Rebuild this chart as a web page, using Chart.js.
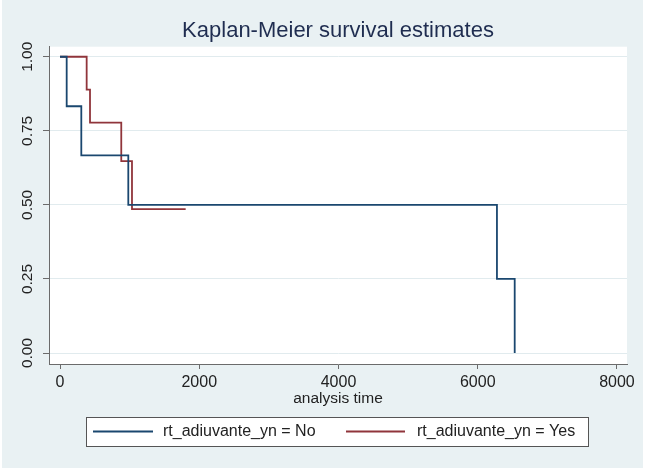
<!DOCTYPE html>
<html>
<head>
<meta charset="utf-8">
<script src="https://cdn.jsdelivr.net/npm/chart.js@4.4.1/dist/chart.umd.min.js"></script>
<style>
  html, body { margin: 0; padding: 0; background: #ffffff; }
  canvas { display: block; }
</style>
</head>
<body>
<canvas id="kmChart" width="645" height="470"></canvas>
<script>
// 데이터
const timesNo = [0, 96, 306, 981, 6276, 6531];
const survNo = [1, 0.833, 0.667, 0.5, 0.25, 0];
const timesYes = [0, 383, 431, 880, 1034, 1805];
const survYes = [1, 0.889, 0.778, 0.648, 0.486, 0.486];
const seriesLabels = ['rt_adiuvante_yn = No', 'rt_adiuvante_yn = Yes'];
const seriesColors = ['#1a476f', '#90353b'];
const xTicks = [0, 2000, 4000, 6000, 8000];
const yTicks = [0, 0.25, 0.5, 0.75, 1];
const chartTitle = 'Kaplan-Meier survival estimates';
const xTitle = 'analysis time';

const FONT = '"Liberation Sans", Arial, sans-serif';

function toPoints(xs, ys) {
    return xs.map((x, i) => ({ x: x, y: ys[i] }));
}

// 배경, 제목, 세로 눈금 글자, 범례
const stataLook = {
    id: 'stataLook',
    beforeDraw(chart) {
        const { ctx, chartArea: a } = chart;
        ctx.save();
        ctx.fillStyle = '#ffffff';
        ctx.fillRect(0, 0, chart.width, chart.height);
        ctx.fillStyle = '#e9f1f3';
        ctx.fillRect(2, 0, chart.width - 4, chart.height - 2);
        ctx.fillStyle = '#ffffff';
        ctx.fillRect(a.left, a.top, a.right - a.left, a.bottom - a.top);
        ctx.restore();
    },
    afterDraw(chart) {
        const { ctx, chartArea: a } = chart;
        const y = chart.scales.y;
        ctx.save();

        // title
        ctx.fillStyle = '#1f2d50';
        ctx.font = '22px ' + FONT;
        ctx.textAlign = 'center';
        ctx.textBaseline = 'middle';
        ctx.fillText(chartTitle, (a.left + a.right) / 2, 31);

        // rotated y tick labels
        ctx.fillStyle = '#222222';
        ctx.font = '15.5px ' + FONT;
        yTicks.forEach(v => {
            ctx.save();
            ctx.translate(28, y.getPixelForValue(v));
            ctx.rotate(-Math.PI / 2);
            ctx.fillText(v.toFixed(2), 0, 0);
            ctx.restore();
        });

        // legend box
        ctx.fillStyle = '#ffffff';
        ctx.fillRect(87, 417, 502, 29);
        ctx.strokeStyle = '#555555';
        ctx.lineWidth = 1;
        ctx.strokeRect(86.5, 417.5, 502, 29);
        const items = [
            { x0: 93, x1: 153, tx: 163 },
            { x0: 346, x1: 405, tx: 417 }
        ];
        ctx.textAlign = 'left';
        ctx.font = '16px ' + FONT;
        chart.data.datasets.forEach((ds, i) => {
            const it = items[i];
            ctx.strokeStyle = ds.borderColor;
            ctx.lineWidth = 1.8;
            ctx.beginPath();
            ctx.moveTo(it.x0, 431.5);
            ctx.lineTo(it.x1, 431.5);
            ctx.stroke();
            ctx.fillStyle = '#222222';
            ctx.fillText(ds.label, it.tx, 432);
        });
        ctx.restore();
    }
};

const ctx = document.getElementById('kmChart').getContext('2d');
const kmChart = new Chart(ctx, {
    type: 'line',
    data: {
        datasets: [
            {
                label: seriesLabels[0],
                data: toPoints(timesNo, survNo),
                borderColor: seriesColors[0],
                borderWidth: 1.8,
                stepped: true,
                pointRadius: 0,
                fill: false
            },
            {
                label: seriesLabels[1],
                data: toPoints(timesYes, survYes),
                borderColor: seriesColors[1],
                borderWidth: 1.8,
                stepped: true,
                pointRadius: 0,
                fill: false
            }
        ]
    },
    options: {
        responsive: false,
        animation: false,
        layout: { padding: { top: 46.7, right: 18, bottom: 0, left: 0 } },
        plugins: {
            legend: { display: false },
            title: { display: false },
            tooltip: { enabled: false }
        },
        scales: {
            x: {
                type: 'linear',
                min: -158,
                max: 8144,
                afterBuildTicks: s => { s.ticks = xTicks.map(v => ({ value: v })); },
                afterFit: s => { s.height = 106; },
                grid: { drawOnChartArea: false, drawTicks: true, tickLength: 5, tickColor: '#6b6b6b' },
                border: { display: true, color: '#6b6b6b', width: 1 },
                ticks: {
                    padding: 4,
                    color: '#222222',
                    font: { family: FONT, size: 16 },
                    maxRotation: 0,
                    callback: v => String(v)
                },
                title: {
                    display: true,
                    text: xTitle,
                    color: '#222222',
                    font: { family: FONT, size: 15.5 },
                    padding: { top: 0, bottom: 62 }
                }
            },
            y: {
                type: 'linear',
                min: -0.037,
                max: 1.034,
                afterBuildTicks: s => { s.ticks = yTicks.map(v => ({ value: v })); },
                afterFit: s => { s.width = 49; },
                grid: { color: '#e1ebee', lineWidth: 1, drawTicks: true, tickLength: 6, tickColor: '#6b6b6b' },
                border: { display: true, color: '#6b6b6b', width: 1 },
                ticks: { display: false }
            }
        }
    },
    plugins: [stataLook]
});
</script>
</body>
</html>
